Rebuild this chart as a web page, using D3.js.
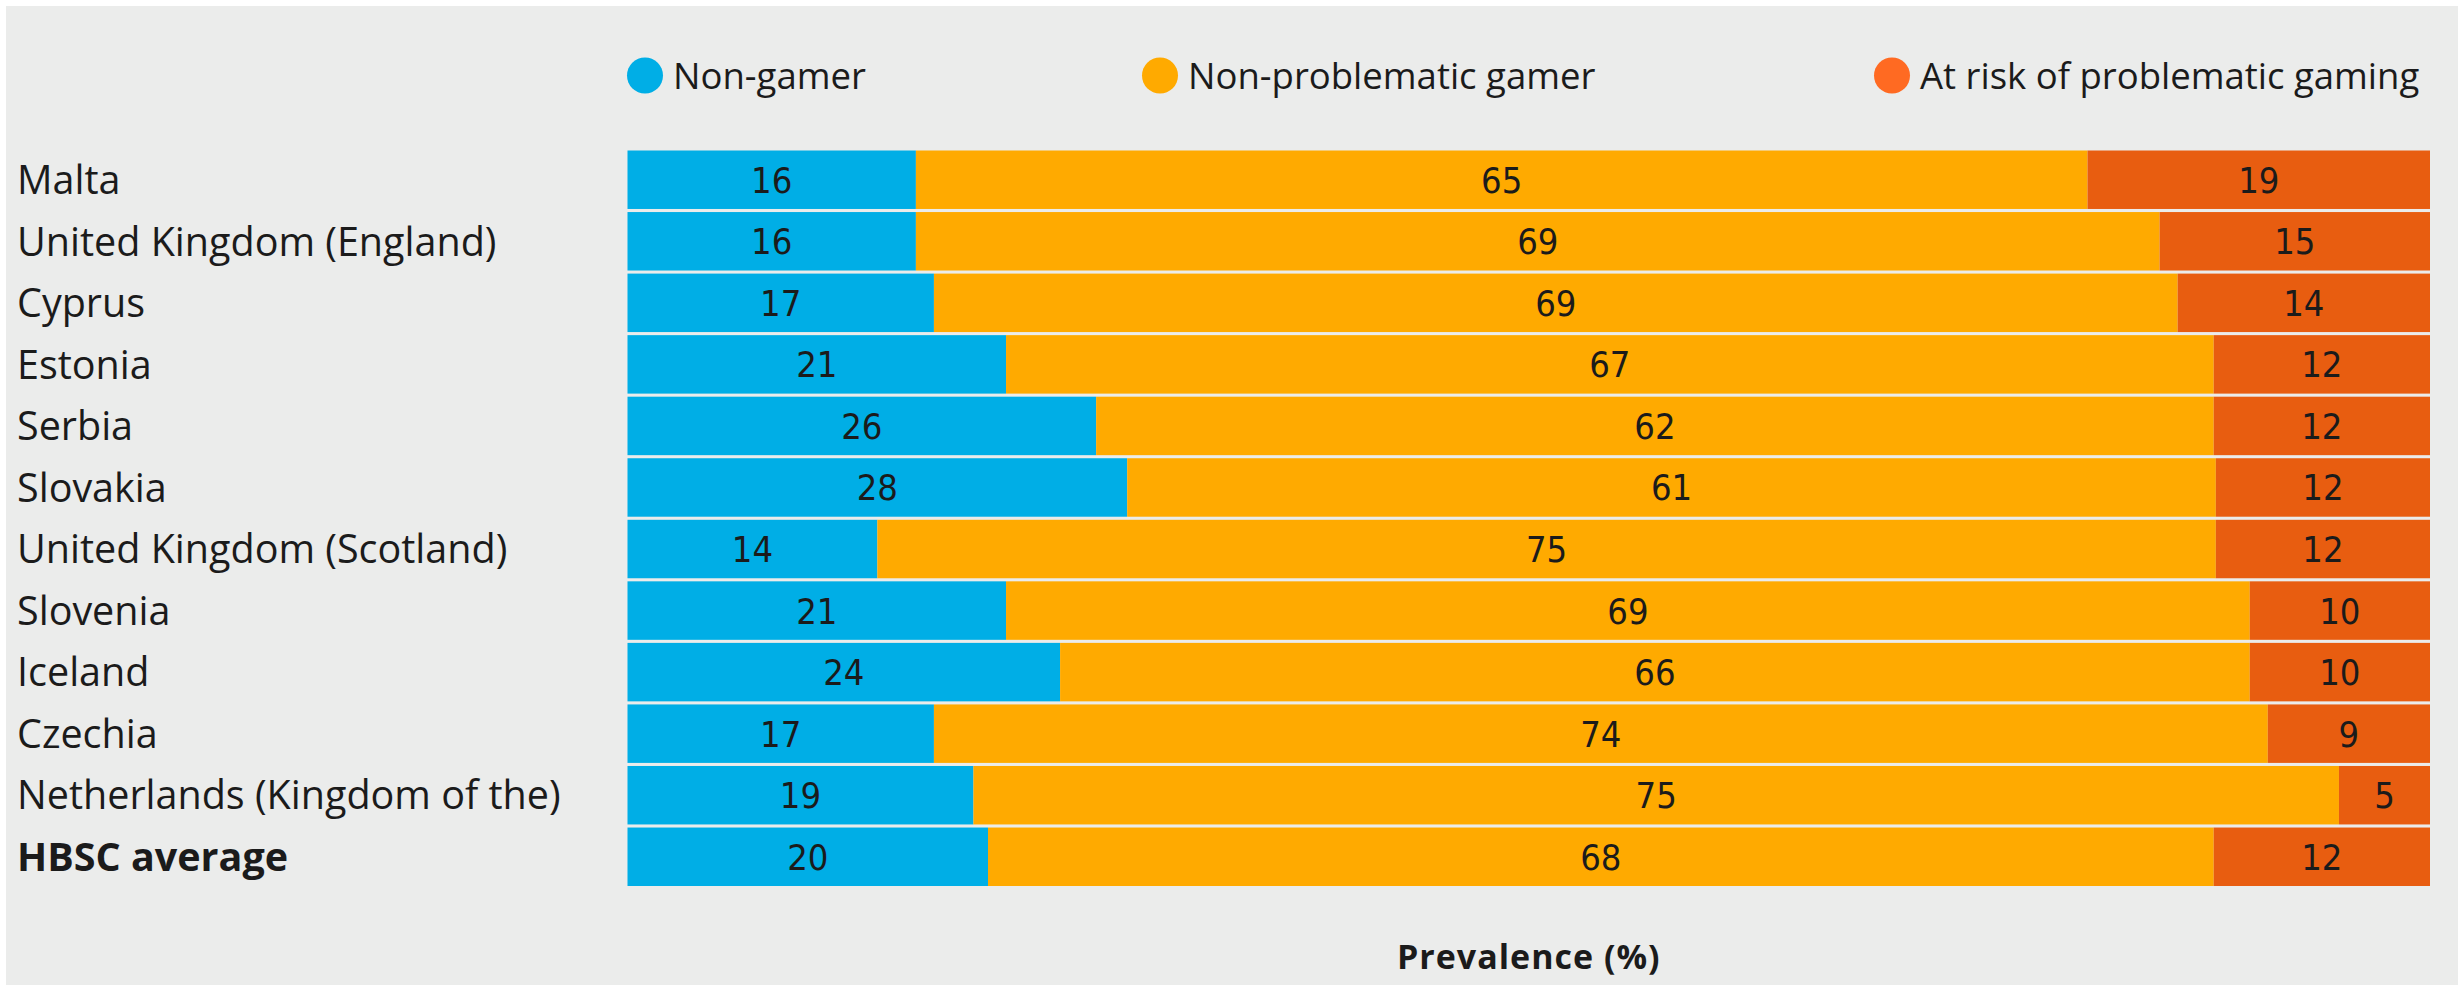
<!DOCTYPE html>
<html>
<head>
<meta charset="utf-8">
<script src="https://cdn.jsdelivr.net/npm/d3@7"></script>
<style>
  html, body { margin: 0; padding: 0; background: #ffffff; }
  svg { display: block; }
</style>
</head>
<body>
<svg id="chart" width="2458" height="985"></svg>
<script>
// ---- data ----
const countries = [
  "Malta",
  "United Kingdom (England)",
  "Cyprus",
  "Estonia",
  "Serbia",
  "Slovakia",
  "United Kingdom (Scotland)",
  "Slovenia",
  "Iceland",
  "Czechia",
  "Netherlands (Kingdom of the)",
  "HBSC average"
];
const seriesNames = ["Non-gamer", "Non-problematic gamer", "At risk of problematic gaming"];
const nonGamer        = [16, 16, 17, 21, 26, 28, 14, 21, 24, 17, 19, 20];
const nonProblematic  = [65, 69, 69, 67, 62, 61, 75, 69, 66, 74, 75, 68];
const atRisk          = [19, 15, 14, 12, 12, 12, 12, 10, 10,  9,  5, 12];
const axisTitle = "Prevalence (%)";

// ---- styles ----
const barColors    = ["#00aee6", "#ffaa00", "#e85d10"];
const legendColors = ["#00aee6", "#ffaa00", "#ff6a22"];
const bg = "#ebeceb";
const textColor = "#1b1b1b";
const labelFont = "'Open Sans', 'Noto Sans', sans-serif";
const valueFont = "'Liberation Sans Narrow', 'DejaVu Sans Condensed', 'Roboto', sans-serif";

const svg = d3.select("#chart");
svg.append("rect").attr("x", 6).attr("y", 6).attr("width", 2452).attr("height", 979).attr("fill", bg);

const rows = countries.map((c, i) => ({
  country: c,
  [seriesNames[0]]: nonGamer[i],
  [seriesNames[1]]: nonProblematic[i],
  [seriesNames[2]]: atRisk[i]
}));

const stack = d3.stack().keys(seriesNames).offset(d3.stackOffsetExpand);
const stacked = stack(rows);

const x = d3.scaleLinear().domain([0, 1]).range([627.5, 2430]);
const y = d3.scaleBand().domain(countries).range([150.5, 886]).paddingInner(0.05).paddingOuter(0);

// bars
const layers = svg.append("g").selectAll("g")
  .data(stacked)
  .join("g")
  .attr("fill", (d, i) => barColors[i]);

layers.selectAll("rect")
  .data(d => d.map(p => ({p, key: d.key})))
  .join("rect")
  .attr("x", d => x(d.p[0]))
  .attr("y", d => y(d.p.data.country))
  .attr("width", d => x(d.p[1]) - x(d.p[0]))
  .attr("height", y.bandwidth());

// value labels
layers.selectAll("text")
  .data(d => d.map(p => ({p, key: d.key})))
  .join("text")
  .attr("x", d => (x(d.p[0]) + x(d.p[1])) / 2)
  .attr("y", d => y(d.p.data.country) + y.bandwidth() / 2)
  .attr("dy", "0.36em")
  .attr("text-anchor", "middle")
  .attr("fill", textColor)
  .style("font-family", valueFont)
  .style("font-size", "36px")
  .text(d => d.p.data[d.key]);

// category axis (labels only)
const yAxis = d3.axisLeft(y).tickSize(0).tickPadding(0);
const yg = svg.append("g").attr("transform", "translate(17,0)").call(yAxis);
yg.select(".domain").remove();
yg.selectAll("text")
  .attr("text-anchor", "start")
  .attr("x", 0)
  .attr("dy", "0.36em")
  .attr("fill", textColor)
  .style("font-family", labelFont)
  .style("font-size", "39.5px")
  .style("font-weight", d => d === "HBSC average" ? "700" : "400");

// legend
const legendPos = [645, 1160, 1892];
const lg = svg.append("g").selectAll("g")
  .data(seriesNames)
  .join("g")
  .attr("transform", (d, i) => `translate(${legendPos[i]},75.5)`);
lg.append("circle").attr("r", 18).attr("fill", (d, i) => legendColors[i]);
lg.append("text")
  .attr("x", 28)
  .attr("dy", "0.36em")
  .attr("fill", textColor)
  .style("font-family", labelFont)
  .style("font-size", "36.5px")
  .text(d => d);

// axis title
svg.append("text")
  .attr("x", (x.range()[0] + x.range()[1]) / 2)
  .attr("y", 957)
  .attr("dy", "0.36em")
  .attr("text-anchor", "middle")
  .attr("fill", textColor)
  .style("font-family", labelFont)
  .style("font-size", "34px")
  .style("font-weight", "700")
  .style("letter-spacing", "1px")
  .text(axisTitle);
</script>
</body>
</html>
